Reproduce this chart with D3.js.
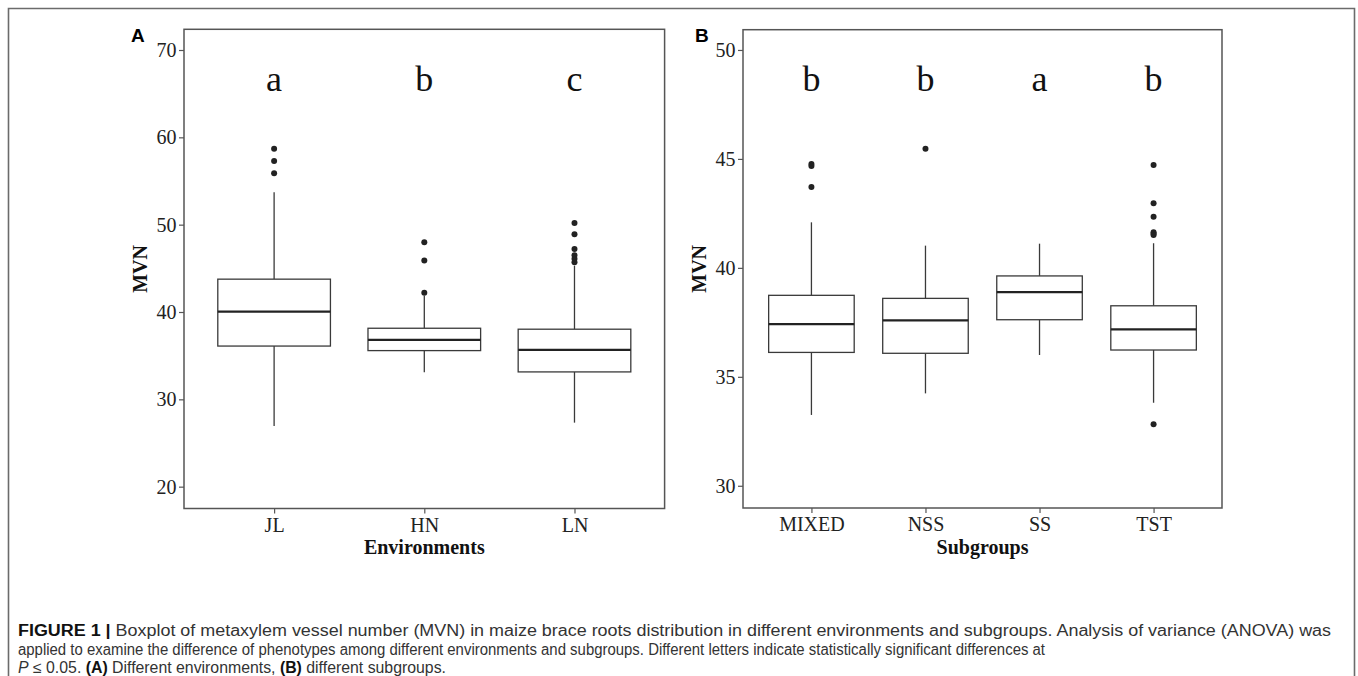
<!DOCTYPE html>
<html>
<head>
<meta charset="utf-8">
<script src="https://cdn.jsdelivr.net/npm/d3@7"></script>
<style>
  html, body { margin: 0; padding: 0; background: #fff; }
  svg { display: block; }
</style>
</head>
<body>
<svg id="chart" width="1358" height="676"></svg>
<script>
// ---------------- DATA ----------------
const envCategories = ["JL", "HN", "LN"];
const envLower   = [26.95, 33.10, 27.33];
const envQ1      = [36.10, 35.58, 33.14];
const envMedian  = [40.05, 36.80, 35.66];
const envQ3      = [43.76, 38.14, 38.03];
const envUpper   = [53.70, 41.85, 45.30];
const envOutliers = [
  [58.7, 57.3, 55.9],
  [48.0, 45.9, 42.2],
  [50.2, 48.9, 47.2, 46.5, 46.1, 45.7]
];
const envLetters = ["a", "b", "c"];
const envTicks = [20, 30, 40, 50, 60, 70];

const subCategories = ["MIXED", "NSS", "SS", "TST"];
const subLower   = [33.25, 34.24, 36.00, 33.81];
const subQ1      = [36.12, 36.08, 37.62, 36.23];
const subMedian  = [37.42, 37.59, 38.89, 37.18];
const subQ3      = [38.74, 38.60, 39.63, 38.26];
const subUpper   = [42.09, 41.02, 41.11, 41.13];
const subOutliers = [
  [44.77, 44.68, 43.71],
  [45.47],
  [],
  [44.72, 42.97, 42.35, 41.63, 41.57, 41.51, 32.82]
];
const subLetters = ["b", "b", "a", "b"];
const subTicks = [30, 35, 40, 45, 50];

// ---------------- DRAW ----------------
const svg = d3.select("#chart");
const SERIF = "'Liberation Serif', 'Times New Roman', serif";
const SANS = "'Liberation Sans', Arial, sans-serif";

// outer frame (open at the bottom)
svg.append("path")
  .attr("d", "M8.5,676 L8.5,8.5 L1354.5,8.5 L1354.5,676")
  .attr("fill", "none").attr("stroke", "#6b6b6b").attr("stroke-width", 1.6);

function panel(cfg) {
  const g = svg.append("g");
  const x = d3.scalePoint().domain(cfg.categories).range([cfg.left, cfg.right]).padding(0.6);
  const y = d3.scaleLinear().domain(cfg.yDomain).range([cfg.bottom, cfg.top]);
  const bw = x.step() * 0.75;

  const rows = cfg.categories.map((c, i) => ({
    c, lo: cfg.lower[i], q1: cfg.q1[i], med: cfg.median[i], q3: cfg.q3[i], hi: cfg.upper[i],
    out: cfg.outliers[i], letter: cfg.letters[i]
  }));

  // whiskers
  g.selectAll(".wh").data(rows).join("line")
    .attr("x1", d => x(d.c)).attr("x2", d => x(d.c))
    .attr("y1", d => y(d.hi)).attr("y2", d => y(d.q3))
    .attr("stroke", "#3a3a3a").attr("stroke-width", 1.3);
  g.selectAll(".wl").data(rows).join("line")
    .attr("x1", d => x(d.c)).attr("x2", d => x(d.c))
    .attr("y1", d => y(d.q1)).attr("y2", d => y(d.lo))
    .attr("stroke", "#3a3a3a").attr("stroke-width", 1.3);
  // boxes
  g.selectAll(".box").data(rows).join("rect")
    .attr("x", d => x(d.c) - bw / 2).attr("width", bw)
    .attr("y", d => y(d.q3)).attr("height", d => y(d.q1) - y(d.q3))
    .attr("fill", "#fff").attr("stroke", "#3a3a3a").attr("stroke-width", 1.3);
  // medians
  g.selectAll(".med").data(rows).join("line")
    .attr("x1", d => x(d.c) - bw / 2).attr("x2", d => x(d.c) + bw / 2)
    .attr("y1", d => y(d.med)).attr("y2", d => y(d.med))
    .attr("stroke", "#222").attr("stroke-width", 2.2);
  // outliers
  rows.forEach(d => {
    g.selectAll(null).data(d.out).join("circle")
      .attr("cx", x(d.c)).attr("cy", v => y(v)).attr("r", 3)
      .attr("fill", "#222");
  });
  // letters
  g.selectAll(".let").data(rows).join("text")
    .attr("x", d => x(d.c)).attr("y", 91)
    .attr("text-anchor", "middle")
    .attr("font-family", SERIF).attr("font-size", 36).attr("fill", "#111")
    .text(d => d.letter);

  // panel border
  g.append("rect")
    .attr("x", cfg.left).attr("y", cfg.top)
    .attr("width", cfg.borderRight - cfg.left).attr("height", cfg.bottom - cfg.top)
    .attr("fill", "none").attr("stroke", "#555").attr("stroke-width", 1.5);

  // y axis
  const ya = g.append("g").attr("transform", `translate(${cfg.left},0)`)
    .call(d3.axisLeft(y).tickValues(cfg.ticks).tickSize(5).tickPadding(2.5).tickFormat(d3.format("d")));
  ya.select(".domain").remove();
  ya.selectAll(".tick line").attr("stroke", "#555").attr("stroke-width", 1.2);
  ya.selectAll(".tick text").attr("font-family", SERIF).attr("font-size", 20).attr("fill", "#222");

  // x axis
  const xa = g.append("g").attr("transform", `translate(0,${cfg.bottom})`)
    .call(d3.axisBottom(x).tickSize(5).tickPadding(4));
  xa.select(".domain").remove();
  xa.selectAll(".tick line").attr("stroke", "#555").attr("stroke-width", 1.2);
  xa.selectAll(".tick text").attr("font-family", SERIF).attr("font-size", 20).attr("fill", "#222");

  // axis titles
  g.append("text")
    .attr("transform", `translate(${cfg.left - 37},${(cfg.top + cfg.bottom) / 2}) rotate(-90)`)
    .attr("text-anchor", "middle")
    .attr("font-family", SERIF).attr("font-weight", "bold").attr("font-size", 20).attr("fill", "#111")
    .text("MVN");
  g.append("text")
    .attr("x", (cfg.left + cfg.borderRight) / 2).attr("y", 554)
    .attr("text-anchor", "middle")
    .attr("font-family", SERIF).attr("font-weight", "bold").attr("font-size", 20).attr("fill", "#111")
    .text(cfg.xTitle);

  // panel label
  g.append("text")
    .attr("x", cfg.labelX).attr("y", 42)
    .attr("font-family", SANS).attr("font-weight", "bold").attr("font-size", 19).attr("fill", "#000")
    .text(cfg.label);
}

panel({
  categories: envCategories, lower: envLower, q1: envQ1, median: envMedian, q3: envQ3,
  upper: envUpper, outliers: envOutliers, letters: envLetters, ticks: envTicks,
  left: 184, right: 664.6, borderRight: 664.6, top: 29.3, bottom: 508.5,
  yDomain: [17.5, 72.37], xTitle: "Environments", label: "A", labelX: 131
});

panel({
  categories: subCategories, lower: subLower, q1: subQ1, median: subMedian, q3: subQ3,
  upper: subUpper, outliers: subOutliers, letters: subLetters, ticks: subTicks,
  left: 743, right: 1222, borderRight: 1222, top: 29.7, bottom: 508,
  yDomain: [28.98, 50.93], xTitle: "Subgroups", label: "B", labelX: 695
});

// caption
const cap = svg.append("g").attr("font-family", "'Liberation Sans', Arial, sans-serif").attr("font-size", 16).attr("fill", "#333");
const l1 = cap.append("text").attr("x", 18).attr("y", 636)
  .attr("textLength", 1313).attr("lengthAdjust", "spacingAndGlyphs");
l1.append("tspan").attr("font-weight", "bold").attr("fill", "#111").text("FIGURE 1 | ");
l1.append("tspan").text("Boxplot of metaxylem vessel number (MVN) in maize brace roots distribution in different environments and subgroups. Analysis of variance (ANOVA) was");
cap.append("text").attr("x", 18).attr("y", 654.5)
  .attr("textLength", 1027).attr("lengthAdjust", "spacingAndGlyphs")
  .text("applied to examine the difference of phenotypes among different environments and subgroups. Different letters indicate statistically significant differences at");
const l3 = cap.append("text").attr("x", 18).attr("y", 673)
  .attr("textLength", 428).attr("lengthAdjust", "spacingAndGlyphs");
l3.append("tspan").attr("font-style", "italic").text("P");
l3.append("tspan").text(" ≤ 0.05. ");
l3.append("tspan").attr("font-weight", "bold").attr("fill", "#111").text("(A)");
l3.append("tspan").text(" Different environments, ");
l3.append("tspan").attr("font-weight", "bold").attr("fill", "#111").text("(B)");
l3.append("tspan").text(" different subgroups.");
</script>
</body>
</html>
